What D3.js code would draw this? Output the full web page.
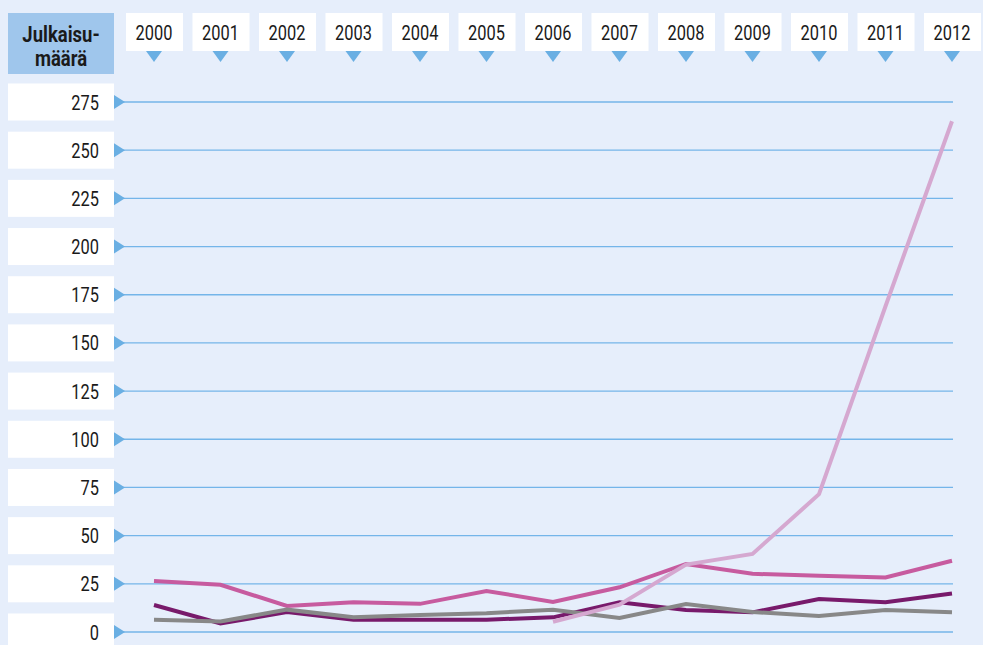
<!DOCTYPE html>
<html><head><meta charset="utf-8">
<script src="https://cdn.jsdelivr.net/npm/d3@7"></script>
<style>
html,body{margin:0;padding:0;background:#e6eefb;}
svg{display:block;}
text{font-family:"Roboto",sans-serif;fill:#1a1a1a;}
</style></head>
<body>
<svg id="chart" width="983" height="645"></svg>
<script>
const years = [2000,2001,2002,2003,2004,2005,2006,2007,2008,2009,2010,2011,2012];
const yTicks = [0,25,50,75,100,125,150,175,200,225,250,275];
const headerLines = ["Julkaisu-","määrä"];
const seriesPink   = [26.5,24.5,13.5,15.4,14.6,21.3,15.6,23.2,35.3,30.2,29.2,28.3,37];
const seriesPurple = [14,4.4,10.4,6.4,6.4,6.4,7.6,15.4,11.4,10.2,17.1,15.4,20];
const seriesGray   = [6.3,5.5,11.6,7.6,8.8,9.7,11.6,7.3,14.5,10.4,8.3,11.4,10.3];
const seriesLight  = [null,null,null,null,null,null,5.3,14.2,35,40.5,71.5,169,265];
const seriesColors = {light:"#d5a8d0", gray:"#888888", purple:"#781a6b", pink:"#c75b9f"};

const svg = d3.select("#chart");
const x = d3.scaleLinear().domain([2000,2012]).range([154,952]);
const y = d3.scaleLinear().domain([0,275]).range([632,102]);
const gridColor = "#74b5e9", triColor = "#6aafe3";
const SX = 0.8;

// header box
svg.append("rect").attr("x",8).attr("y",13).attr("width",106).attr("height",61).attr("fill","#9fc6ec");
headerLines.forEach((t,i)=>{
  svg.append("text").attr("transform",`translate(61,${42+i*24}) scale(0.86,1)`)
    .attr("text-anchor","middle").style("font-weight","bold").style("font-size","21.5px").text(t);
});

// year boxes + triangles
const yr = svg.append("g").selectAll("g").data(years).join("g")
  .attr("transform",d=>`translate(${x(d)},0)`);
yr.append("rect").attr("x",-28).attr("y",13).attr("width",57).attr("height",38).attr("fill","#fff");
yr.append("path").attr("d","M-8,51 L8,51 L0,62 Z").attr("fill",triColor);
yr.append("text").attr("transform",`translate(0,39.5) scale(${SX},1)`)
  .attr("text-anchor","middle").style("font-size","20.5px").text(d=>d);

// y tick boxes, triangles, gridlines
const yt = svg.append("g").selectAll("g").data(yTicks).join("g")
  .attr("transform",d=>`translate(0,${y(d)})`);
yt.append("rect").attr("x",8).attr("y",-18.5).attr("width",106).attr("height",37).attr("fill","#fff");
yt.append("line").attr("x1",118).attr("x2",953).attr("y1",0).attr("y2",0)
  .attr("stroke",gridColor).attr("stroke-width",1.3);
yt.append("path").attr("d","M114,-7 L125,0 L114,7 Z").attr("fill",triColor);
yt.append("text").attr("transform",`translate(99,7.5) scale(${SX},1)`)
  .attr("text-anchor","end").style("font-size","20.5px").text(d=>d);

// lines
const line = d3.line().defined(d=>d.v!=null).x(d=>x(d.year)).y(d=>y(d.v));
const series = [
  {k:"light", vals:seriesLight},
  {k:"gray", vals:seriesGray},
  {k:"purple", vals:seriesPurple},
  {k:"pink", vals:seriesPink}
];
const order = ["purple","pink","gray","light"];
order.forEach(k=>{
  const s = series.find(s=>s.k===k);
  svg.append("path").datum(years.map((yv,i)=>({year:yv,v:s.vals[i]})))
    .attr("d",line).attr("fill","none").attr("stroke",seriesColors[k])
    .attr("stroke-width",4).attr("stroke-linejoin","miter").attr("stroke-linecap","butt");
});
</script>
</body></html>
